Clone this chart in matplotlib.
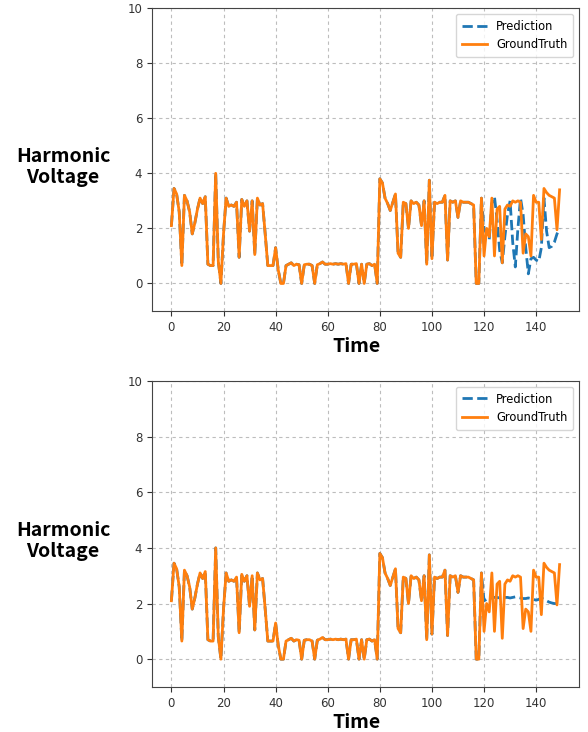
import matplotlib
matplotlib.use("Agg")
import matplotlib.pyplot as plt
import numpy as np

# ground truth harmonic voltage, t = 0..149
truth = [
    2.1, 3.45, 3.25, 2.6, 0.65, 3.2, 3.0, 2.6, 1.8, 2.2,
    2.7, 3.1, 2.9, 3.15, 0.7, 0.65, 0.65, 4.0, 0.8, 0.0,
    1.8, 3.1, 2.8, 2.85, 2.8, 2.95, 0.95, 3.05, 2.8, 3.0,
    1.9, 3.0, 1.05, 3.1, 2.85, 2.9, 1.8, 0.65, 0.65, 0.65,
    1.3, 0.5, 0.0, 0.0, 0.65, 0.7, 0.75, 0.65, 0.7, 0.68,
    0.0, 0.68, 0.7, 0.7, 0.65, 0.0, 0.68, 0.72, 0.78, 0.7,
    0.7, 0.72, 0.7, 0.72, 0.7, 0.72, 0.7, 0.72, 0.0, 0.7,
    0.7, 0.72, 0.0, 0.7, 0.0, 0.7, 0.72, 0.65, 0.7, 0.0,
    3.8, 3.65, 3.1, 2.9, 2.65, 2.95, 3.25, 1.1, 0.95, 2.95,
    2.9, 2.0, 3.0, 2.9, 2.95, 2.85, 2.1, 3.0, 0.7, 3.75,
    0.9, 2.95, 2.9, 2.95, 2.95, 3.2, 0.85, 3.0, 2.95, 3.0,
    2.4, 3.0, 2.95, 2.95, 2.95, 2.9, 2.85, 0.0, 0.0, 3.1,
    1.0, 2.0, 1.7, 3.1, 1.0, 2.7, 2.8, 0.75, 2.7, 2.85,
    2.8, 3.0, 2.95, 3.0, 2.95, 1.1, 1.8, 1.7, 1.0, 3.2,
    2.95, 2.95, 1.6, 3.45, 3.3, 3.2, 3.15, 3.1, 1.95, 3.4,
]

# forecasts for t = 120..149 (before that the prediction equals the truth)
pred_start = 120
pred_top_tail = [
    2.0, 1.8, 1.6, 2.9, 3.15, 2.3, 1.2, 0.75, 1.7, 2.5,
    3.0, 1.5, 0.6, 2.0, 3.1, 2.5, 1.3, 0.35, 0.9, 0.95,
    0.85, 0.8, 1.3, 3.1, 1.9, 1.3, 1.35, 1.5, 1.8, 2.0,
]
pred_bottom_tail = [
    2.1, 2.15, 2.18, 2.2, 2.22, 2.22, 2.2, 2.2, 2.22, 2.22,
    2.2, 2.22, 2.24, 2.22, 2.2, 2.18, 2.18, 2.2, 2.18, 2.15,
    2.12, 2.15, 2.2, 2.15, 2.1, 2.05, 2.02, 2.0, 2.0, 2.02,
]

t = np.arange(len(truth))
truth = np.array(truth)
LABEL_FONT = ["Noto Sans CJK KR", "DejaVu Sans"]


def _pred(tail):
    p = truth.copy()
    p[pred_start:] = tail
    return p


def _panel(ax, pred):
    ax.plot(t, pred, "--", color="#1f77b4", lw=2, label="Prediction")
    ax.plot(t, truth, "-", color="#ff7f0e", lw=2, label="GroundTruth")
    ax.set_ylim(-1, 10)
    ax.set_yticks(range(0, 11, 2))
    ax.set_xticks(range(0, 141, 20))
    ax.grid(True, color="#bdbdbd", linestyle=(0, (3, 3)), linewidth=0.8)
    ax.tick_params(labelsize=8.5, colors="#333333")
    for s in ax.spines.values():
        s.set_color("#444444")
    ax.legend(loc="upper right", fontsize=8.3, handlelength=2.2, borderpad=0.5)
    ax.set_xlabel("Time", fontsize=14, fontweight="bold", family=LABEL_FONT)
    ax.xaxis.set_label_coords(0.478, -0.085)


fig = plt.figure(figsize=(5.88, 7.32), dpi=100)
ax1 = fig.add_axes([0.2585, 0.5751, 0.7262, 0.4139])
ax2 = fig.add_axes([0.2585, 0.0615, 0.7262, 0.4180])
_panel(ax1, _pred(pred_top_tail))
_panel(ax2, _pred(pred_bottom_tail))

for yc in (1 - 167 / 732, 1 - 541 / 732):
    fig.text(63 / 588, yc, "Harmonic\nVoltage", ha="center", va="center",
             fontsize=14, fontweight="bold", linespacing=1.15, family=LABEL_FONT)

fig.savefig("out.png", dpi=100)
